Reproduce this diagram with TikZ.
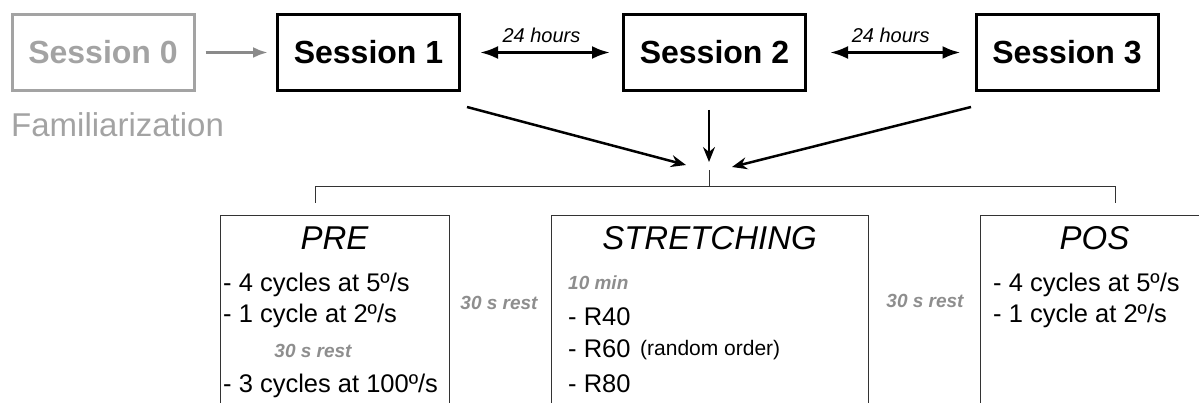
\documentclass[tikz,border=0pt]{standalone}
\usepackage{fontspec}
\setmainfont{Liberation Sans}
\usetikzlibrary{arrows.meta,positioning}

\definecolor{famgray}{HTML}{A3A3A3}
\definecolor{restgray}{HTML}{8E8E8E}

\begin{document}
\begin{tikzpicture}[%
    x=1pt, y=-1pt,
    >={Latex[length=18pt,width=13pt]}, % Voreinstellung fuer Pfeilspitzen
    session/.style={draw, line width=3pt, minimum width=182pt, minimum height=76pt,
        font=\bfseries\fontsize{32}{38}\selectfont},
    phase/.style={draw=black!80, line width=1pt, anchor=north west,
        minimum height=220pt},
    phasetitle/.style={anchor=base, inner sep=0pt, font=\itshape\fontsize{33}{40}\selectfont},
    item/.style={anchor=base west, inner sep=0pt, font=\fontsize{25.5}{30}\selectfont},
    rest/.style={inner sep=0pt, text=restgray, font=\bfseries\itshape\fontsize{19}{23}\selectfont},
    tree/.style={draw=black!80, line width=1pt},
    conv/.style={->, line width=2.5pt, >={Stealth[length=15pt,width=12pt,inset=5pt]}}
    ]
        \useasboundingbox (0,0) rectangle (1199,403);

        % Sitzungen
        \node[session, draw=famgray, text=famgray] (s0) at (103,52.5) {Session 0};
        \node[session] (s1) at (368.5,52.5) {Session 1};
        \node[session] (s2) at (714.5,52.5) {Session 2};
        \node[session] (s3) at (1067,52.5) {Session 3};
        \node[anchor=base west, inner sep=0pt, text=famgray,
            font=\fontsize{33}{40}\selectfont] (fam) at (11,137) {Familiarization};

        % Pfeile oben
        \draw[->, famgray!85!black, line width=3pt, >={Latex[length=15pt,width=11pt]},
            shorten <=10pt, shorten >=8pt] (s0) -- (s1);
        \draw[<->, line width=3pt, shorten <=19pt, shorten >=12pt] (s1) -- (s2)
            node[midway, above=5pt, font=\itshape\fontsize{20}{24}\selectfont] (h1) {24 hours};
        \draw[<->, line width=3pt, shorten <=23pt, shorten >=14pt] (s2) -- (s3)
            node[midway, above=5pt, font=\itshape\fontsize{20}{24}\selectfont] (h2) {24 hours};

        % Zusammenfuehrung
        \coordinate (hub) at (709,187);
        \coordinate (a1) at (467,107);
        \coordinate (b1) at (686,165);
        \coordinate (a2) at (709,110);
        \coordinate (b2) at (709,162);
        \coordinate (a3) at (971,107);
        \coordinate (b3) at (732,167);
        \draw[conv] (a1) -- (b1);
        \draw[conv, line width=2pt] (a2) -- (b2);
        \draw[conv] (a3) -- (b3);

        % Phasen
        \node[phase, minimum width=229pt] (pre) at (220,215) {};
        \node[phase, minimum width=317pt] (str) at (551,215) {};
        \node[phase, minimum width=229pt] (pos) at (980,215) {};

        % Leiter
        \coordinate (tl) at (315,203);
        \coordinate (tr) at (1115,203);
        \draw[tree] (hub) -- ++(0,-17);
        \draw[tree] (tl) -- (tl |- hub) -- (tr |- hub) -- (tr);

        % Texte
        \node[phasetitle] (pret) at (334.5,250) {PRE};
        \node[phasetitle] (strt) at (709.5,250) {STRETCHING};
        \node[phasetitle] (post) at (1094.5,250) {POS};

        \node[item] (pre1) at (223,291) {- 4 cycles at 5º/s};
        \node[item] (pre2) at (223,323) {- 1 cycle at 2º/s};
        \node[rest, anchor=base] (prer) at (313,357) {30 s rest};
        \node[item] (pre3) at (223,392) {- 3 cycles at 100º/s};

        \node[rest, anchor=base west] (tmin) at (568,290) {10 min};
        \node[item] (r40) at (568,325) {- R40};
        \node[item] (r60) at (568,357) {- R60};
        \node[item] (r80) at (568,392) {- R80};
        \node[item, font=\fontsize{21}{25}\selectfont] (rnd) at (640,355) {(random order)};

        \node[item] (pos1) at (993,291) {- 4 cycles at 5º/s};
        \node[item] (pos2) at (993,323) {- 1 cycle at 2º/s};

        \node[rest, anchor=base] (rest1) at (499,309) {30 s rest};
        \node[rest, anchor=base] (rest2) at (925,307) {30 s rest};
    \end{tikzpicture}
\end{document}
